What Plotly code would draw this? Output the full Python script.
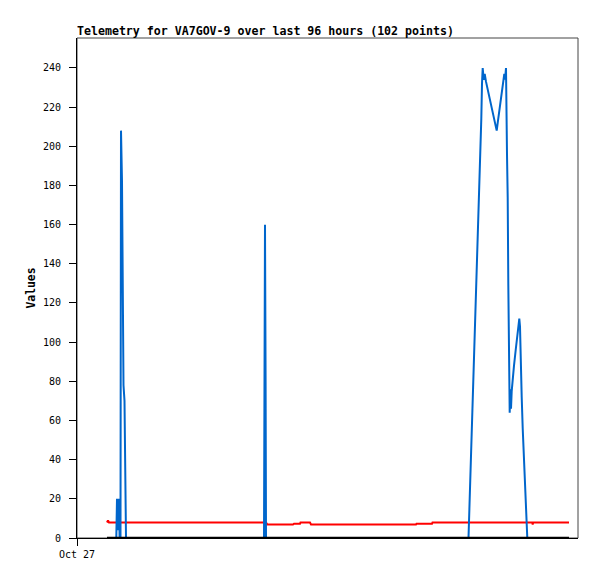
"""Telemetry chart for VA7GOV-9 (last 96 hours)."""
import plotly.graph_objects as go

BLUE = "#0066CC"
RED = "#FF0000"
BLACK = "#000000"
FONT = "DejaVu Sans Mono, monospace"

# hours since Oct 27 00:00
blue_hours = [6.0, 7.86, 8.0, 8.2, 8.4, 8.52, 8.7, 8.8, 9.0, 9.1, 9.3, 9.5, 9.6, 9.8,
              37.4, 37.6, 37.72, 37.8,
              78.3, 78.4, 78.66, 78.86, 79.06, 79.26, 79.46, 79.66, 79.86, 80.06, 80.26,
              80.46, 80.66, 80.86, 81.0, 81.14, 81.34, 81.54, 81.8, 82.06, 82.32, 82.6,
              82.86, 83.12, 83.4, 83.66, 83.94, 84.14, 84.4, 84.66, 84.94, 85.2, 85.46,
              85.6, 85.8, 86.0, 86.14, 86.26, 86.4, 86.54, 86.66, 86.8, 86.94, 87.1,
              87.4, 87.74, 88.06, 88.26, 88.46, 88.6, 88.74, 88.94, 89.14, 89.4, 89.66,
              89.94, 90.06, 98.4]
blue_values = [0, 0, 20, 4, 20, 0, 0, 208, 182, 120, 78, 70, 26, 0,
               0, 160, 80, 0,
               0, 8, 26, 43, 60, 77, 94, 111, 128, 146, 162,
               180, 197, 214, 232, 240, 234, 237, 233, 230, 227, 224,
               221, 218, 215, 211, 208, 212, 217, 222, 227, 232, 237,
               234, 240, 196, 174, 130, 86, 64, 76, 66, 75, 81,
               88, 96, 103, 108, 112, 108, 88, 72, 56, 41, 23,
               8, 0, 0]

red_hours = [6.0, 6.2, 6.4, 37.8, 38.1, 43.2, 43.4, 44.6, 44.7, 46.6, 46.8,
             67.8, 67.9, 71.0, 71.1, 91.06, 91.14, 91.22, 98.4]
red_values = [7.9, 9.0, 7.9, 7.9, 6.9, 6.9, 7.3, 7.3, 7.9, 7.9, 6.9,
              6.9, 7.3, 7.3, 7.9, 7.9, 6.8, 7.9, 7.9]

black_hours = [6.0, 98.4]
black_values = [0, 0]

y_ticks = list(range(0, 241, 20))
x_tick_vals = [0]
x_tick_text = ["Oct 27"]

# the page body adds an 8px offset, so the figure is sized to fit the window
W, H = 589, 571

fig = go.Figure()
fig.add_trace(go.Scatter(x=red_hours, y=red_values, mode="lines",
                         line=dict(color=RED, width=2), name="red"))
fig.add_trace(go.Scatter(x=blue_hours, y=blue_values, mode="lines",
                         line=dict(color=BLUE, width=2), name="blue"))
fig.add_trace(go.Scatter(x=black_hours, y=black_values, mode="lines",
                         line=dict(color=BLACK, width=2.5), name="black"))

fig.update_layout(
    width=W, height=H,
    paper_bgcolor="white", plot_bgcolor="white",
    margin=dict(l=69, r=19, t=30, b=41),
    showlegend=False,
    font=dict(family=FONT, color="black", size=10),
    title=dict(
        text="<b>Telemetry for VA7GOV-9 over last 96 hours (102 points)</b>",
        font=dict(family=FONT, size=11.6, color="black"),
        x=69 / W, xanchor="left", xref="container",
        y=1 - 23 / H, yanchor="middle", yref="container",
    ),
    shapes=[dict(type="rect", xref="paper", yref="paper", x0=0, x1=1, y0=0, y1=1,
                 line=dict(color="#444444", width=1), layer="below")],
)
fig.update_xaxes(
    range=[0, 100.2], showgrid=False, zeroline=False,
    showline=True, linecolor="black", linewidth=1,
    ticks="outside", ticklen=7, tickcolor="black",
    tickvals=x_tick_vals, ticktext=x_tick_text,
    tickfont=dict(family=FONT, size=10),
)
fig.update_yaxes(
    range=[0, 255.3], showgrid=False, zeroline=False,
    showline=True, linecolor="black", linewidth=1,
    ticks="outside", ticklen=7, tickcolor="black",
    tickvals=y_ticks, ticklabelstandoff=6,
    tickfont=dict(family=FONT, size=10),
    title=dict(text="<b>Values</b>", font=dict(family=FONT, size=11.4), standoff=4),
)

fig.write_html("out.html")
